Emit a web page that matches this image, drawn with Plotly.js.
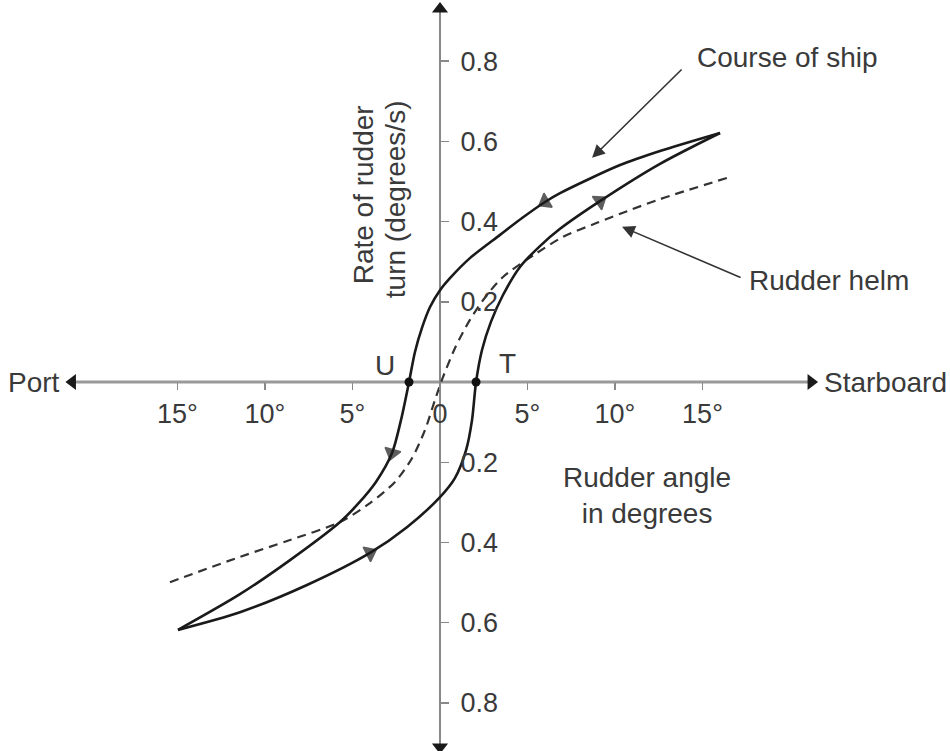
<!DOCTYPE html>
<html>
<head>
<meta charset="utf-8">
<script src="https://cdn.plot.ly/plotly-3.0.1.min.js"></script>
<style>
  html, body { margin: 0; padding: 0; background: #fff; }
  #chart { width: 950px; height: 751px; }
</style>
</head>
<body>
<div id="chart"></div>
<script>
// rudder angle (deg, port negative) vs rate of rudder turn
const risingX = [-14.97, -11.43, -7.60, -4.00, -1.89, 0, 0.86, 1.49, 1.83, 2.06, 2.40, 2.91, 3.60, 4.57, 5.71, 6.86, 9.14, 12.57, 16.0];
const risingY = [-0.618, -0.574, -0.506, -0.426, -0.362, -0.287, -0.239, -0.170, -0.095, 0, 0.080, 0.150, 0.217, 0.287, 0.339, 0.382, 0.451, 0.544, 0.621];
const risingArrows = [3, 16];

const fallingX = [16.0, 12.57, 10.29, 6.86, 6.0, 4.69, 3.43, 1.71, 0.57, 0, -0.57, -1.03, -1.43, -1.77, -2.23, -2.74, -3.66, -4.69, -5.71, -8.57, -11.43, -14.97];
const fallingY = [0.621, 0.576, 0.541, 0.471, 0.449, 0.409, 0.367, 0.309, 0.259, 0.229, 0.187, 0.135, 0.075, 0, -0.095, -0.177, -0.249, -0.304, -0.349, -0.444, -0.529, -0.618];
const fallingArrows = [4, 15];

const helmX = [-15.43, -11.43, -8.57, -5.71, -4.0, -2.57, -1.6, -0.86, -0.29, 0.17, 0.86, 1.71, 2.63, 3.60, 5.54, 7.03, 8.97, 10.69, 12.57, 16.40];
const helmY = [-0.499, -0.436, -0.394, -0.349, -0.302, -0.249, -0.190, -0.120, -0.045, 0.012, 0.085, 0.155, 0.214, 0.262, 0.322, 0.362, 0.397, 0.426, 0.456, 0.509];

// crossing points U and T on the rudder-angle axis
const crossX = [-1.77, 2.06];
const crossY = [0, 0];
const crossLabels = ['U', 'T'];

const xTickVals = [-15, -10, -5, 0, 5, 10, 15];
const xTickText = ['15°', '10°', '5°', '0', '5°', '10°', '15°'];
const yTickVals = [0.8, 0.6, 0.4, 0.2, -0.2, -0.4, -0.6, -0.8];
const yTickText = ['0.8', '0.6', '0.4', '0.2', '0.2', '0.4', '0.6', '0.8'];

// axis line extents (arrow ends)
const xAxisEnds = [-21.0, 21.2];
const yAxisEnds = [0.93, -0.91];

const ink = '#1a1a1a';
const txt = '#3a3a3a';
const fontFam = '"Liberation Sans", Arial, sans-serif';

function arrowSizes(n, idx) {
    let s = [];
    for (let i = 0; i < n; i++) s.push(idx.includes(i) ? 14 : 0);
    return s;
}

const traces = [
    {   // x axis line
        x: xAxisEnds, y: [0, 0], mode: 'lines+markers',
        line: { color: '#999', width: 3 },
        marker: { symbol: ['triangle-left', 'triangle-right'], size: 14, color: ink },
        hoverinfo: 'skip'
    },
    {   // y axis line
        x: [0, 0], y: yAxisEnds, mode: 'lines+markers',
        line: { color: '#888', width: 2 },
        marker: { symbol: ['triangle-up', 'triangle-down'], size: 14, color: ink },
        hoverinfo: 'skip'
    },
    {
        x: helmX, y: helmY, mode: 'lines', name: 'Rudder helm',
        line: { color: '#333', width: 2.2, dash: '9px,6px', shape: 'spline', smoothing: 0.8 }
    },
    {
        x: risingX, y: risingY, mode: 'lines+markers', name: 'Course of ship',
        line: { color: ink, width: 2.6, shape: 'spline', smoothing: 0.8 },
        marker: { symbol: 'triangle-up', angleref: 'previous', size: arrowSizes(risingX.length, risingArrows), color: ink, line: { width: 1.5, color: ink } }
    },
    {
        x: fallingX, y: fallingY, mode: 'lines+markers', name: 'Course of ship',
        line: { color: ink, width: 2.6, shape: 'spline', smoothing: 0.8 },
        marker: { symbol: 'triangle-up', angleref: 'previous', size: arrowSizes(fallingX.length, fallingArrows), color: ink, line: { width: 1.5, color: ink } }
    },
    {
        x: crossX, y: crossY, mode: 'markers',
        marker: { size: 9, color: '#111' }
    }
];

const font = { family: fontFam, size: 28, color: txt };
const tickFont = { family: fontFam, size: 27, color: txt };

const layout = {
    width: 950,
    height: 751,
    margin: { l: 0, r: 0, t: 0, b: 0 },
    paper_bgcolor: '#fff',
    plot_bgcolor: '#fff',
    showlegend: false,
    font: font,
    xaxis: {
        range: [-25.14, 29.14],
        anchor: 'free', position: 0.4913,
        showgrid: false, zeroline: false, showline: false,
        tickvals: xTickVals, ticktext: xTickText,
        ticks: 'outside', ticklen: 7, tickwidth: 1.5, tickcolor: '#888',
        ticklabelstandoff: 1,
        tickfont: tickFont
    },
    yaxis: {
        range: [-0.920, 0.9526],
        anchor: 'free', position: 0.4632, side: 'right',
        showgrid: false, zeroline: false, showline: false,
        tickvals: yTickVals, ticktext: yTickText,
        ticks: 'outside', ticklen: 8, tickwidth: 1.5, tickcolor: '#888',
        ticklabelstandoff: 6,
        tickfont: tickFont
    },
    annotations: [
        { x: -21.6, y: 0, text: 'Port', showarrow: false, xanchor: 'right', font: font },
        { x: 21.83, y: 0, text: 'Starboard', showarrow: false, xanchor: 'left', font: font },
        { x: 14.55, y: 0.808, text: 'Course of ship', showarrow: false, xanchor: 'left', font: font },
        { x: 17.55, y: 0.254, text: 'Rudder helm', showarrow: false, xanchor: 'left', font: font },
        { x: 11.83, y: -0.284, text: 'Rudder angle<br>in degrees', showarrow: false, font: font },
        { x: -4.40, y: 0.468, text: 'Rate of rudder', showarrow: false, textangle: -90, font: font },
        { x: -2.57, y: 0.456, text: 'turn (degrees/s)', showarrow: false, textangle: -90, font: font },
        { x: -3.14, y: 0.042, text: crossLabels[0], showarrow: false, font: font },
        { x: 3.83, y: 0.047, text: crossLabels[1], showarrow: false, font: font },
        {
            x: 8.69, y: 0.559, ax: 13.89, ay: 0.783, axref: 'x', ayref: 'y',
            text: '', showarrow: true, arrowhead: 2, arrowsize: 1.6, arrowwidth: 1.6, arrowcolor: '#333'
        },
        {
            x: 10.4, y: 0.387, ax: 17.26, ay: 0.259, axref: 'x', ayref: 'y',
            text: '', showarrow: true, arrowhead: 2, arrowsize: 1.6, arrowwidth: 1.6, arrowcolor: '#333'
        }
    ]
};

Plotly.newPlot('chart', traces, layout, { displayModeBar: false, staticPlot: true });
</script>
</body>
</html>
